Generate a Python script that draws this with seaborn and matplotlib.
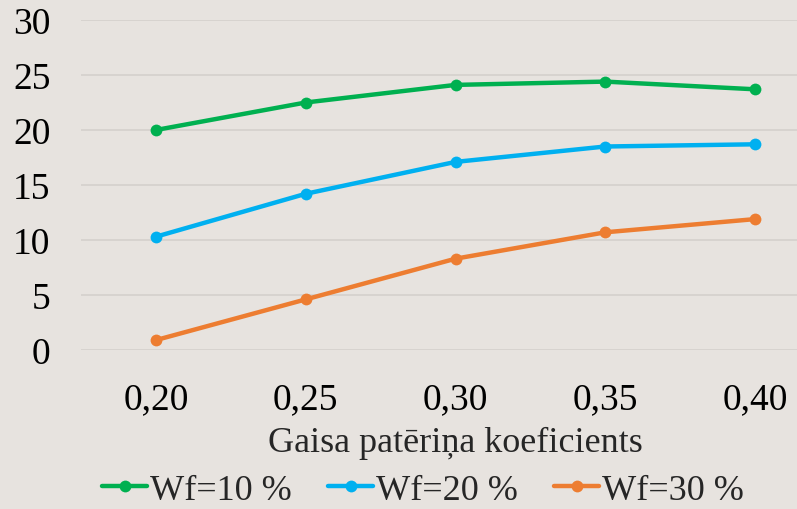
import matplotlib
matplotlib.use("Agg")
import matplotlib.pyplot as plt
import seaborn as sns
import pandas as pd

categories = ["0,20", "0,25", "0,30", "0,35", "0,40"]
wf10 = [20.0, 22.5, 24.1, 24.4, 23.7]
wf20 = [10.3, 14.2, 17.1, 18.5, 18.7]
wf30 = [0.9, 4.6, 8.3, 10.7, 11.9]
series_names = ["Wf=10 %", "Wf=20 %", "Wf=30 %"]
colors = ["#00B050", "#00B0F0", "#ED7D31"]
y_ticks = [0, 5, 10, 15, 20, 25, 30]
x_label = "Gaisa patēriņa koeficients"

rows = []
for name, vals in zip(series_names, [wf10, wf20, wf30]):
    for c, v in zip(categories, vals):
        rows.append({"x": c, "y": v, "series": name})
df = pd.DataFrame(rows)

sns.set_style("white")
plt.rcParams["font.family"] = ["Liberation Serif", "DejaVu Serif"]
bg = "#E7E3DF"

fig = plt.figure(figsize=(7.97, 5.10), dpi=100, facecolor=bg)
ax = fig.add_axes([81/797, (510-351)/510, (830-81)/797, 330/510])
ax.set_facecolor(bg)

sns.lineplot(data=df, x="x", y="y", hue="series", hue_order=series_names,
             palette=colors, marker="o", markersize=8.5, markeredgewidth=0,
             linewidth=3.2, ax=ax, sort=False, clip_on=False)

ax.set_xlim(-0.5, 4.5)
ax.set_ylim(0, 30)
ax.set_yticks(y_ticks)
ax.yaxis.grid(True, color="#D6D2CE", linewidth=1.3)
ax.xaxis.grid(False)
ax.set_axisbelow(True)
for s in ax.spines.values():
    s.set_visible(False)
ax.tick_params(axis="both", length=0, labelsize=27, colors="black")
ax.tick_params(axis="y", pad=22)
ax.tick_params(axis="x", pad=23)
ax.set_ylabel("")
ax.set_xlabel(x_label, fontsize=26, labelpad=7)

handles, labels = ax.get_legend_handles_labels()
if ax.legend_:
    ax.legend_.remove()
fig.legend(handles, labels, loc="center", bbox_to_anchor=(423/797, 1 - 491/510),
           ncol=3, frameon=False, fontsize=26, handlelength=1.25,
           handletextpad=0.08, columnspacing=1.0, borderaxespad=0)

fig.savefig("out.png", dpi=100, facecolor=bg)
